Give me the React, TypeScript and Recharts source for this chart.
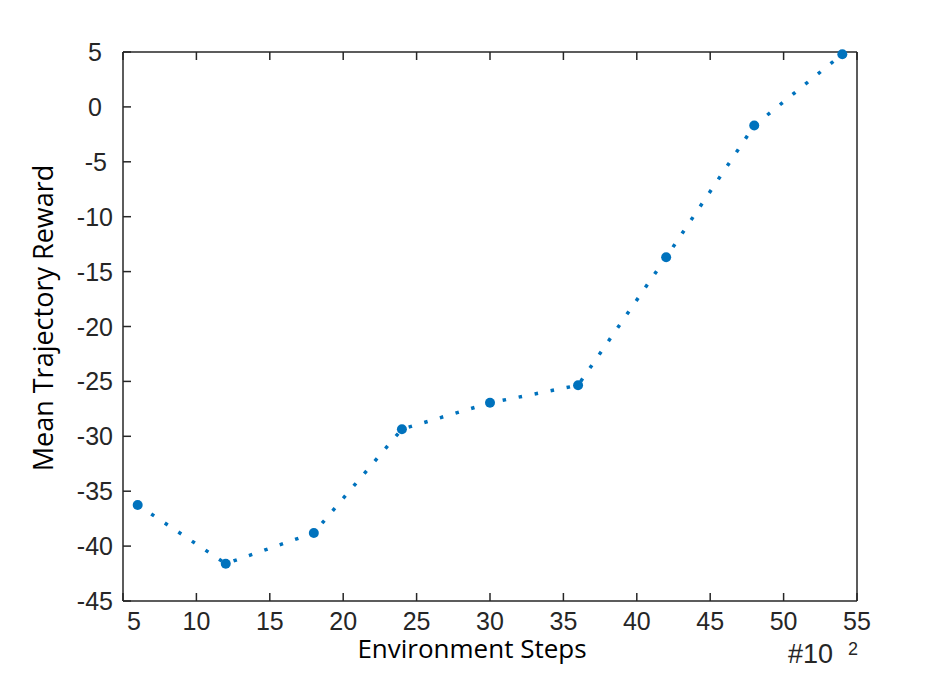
import React from "react";
import { LineChart, Line, XAxis, YAxis } from "recharts";

const steps = [6, 12, 18, 24, 30, 36, 42, 48, 54];
const meanReward = [-36.25, -41.6, -38.8, -29.35, -26.95, -25.35, -13.7, -1.7, 4.8];
const xTicks = [5, 10, 15, 20, 25, 30, 35, 40, 45, 50, 55];
const yTicks = [5, 0, -5, -10, -15, -20, -25, -30, -35, -40, -45];

const data = steps.map((step, i) => ({ step, reward: meanReward[i] }));

const AXIS = "#262626";
const BLUE = "#0072BD";
const TICK_LEN = 8;
const tickFont = { fontFamily: "'Liberation Sans', Arial, sans-serif", fontSize: 25, fill: AXIS };
const titleFont = { fontFamily: "'Open Sans', sans-serif", fontSize: 26, fill: "#000" };

// ticks are drawn inward by hand, labels placed relative to the axis line
function BottomTick({ x, y, payload }: any) {
  const dx = payload.value === 5 ? 11 : 0;
  return (
    <g>
      <line x1={x} y1={y} x2={x} y2={y - TICK_LEN} stroke={AXIS} strokeWidth={1.5} />
      <text x={x + dx} y={y + 29} textAnchor="middle" {...tickFont}>{payload.value}</text>
    </g>
  );
}

function TopTick({ x, y }: any) {
  return <line x1={x} y1={y} x2={x} y2={y + TICK_LEN} stroke={AXIS} strokeWidth={1.5} />;
}

function LeftTick({ x, y, payload }: any) {
  const label = String(payload.value);
  const end = label.length === 1 ? x - 21 : label === "-5" ? x - 16 : x - 10;
  return (
    <g>
      <line x1={x} y1={y} x2={x + TICK_LEN} y2={y} stroke={AXIS} strokeWidth={1.5} />
      <text x={end} y={y + 9} textAnchor="end" {...tickFont}>{label}</text>
    </g>
  );
}

function RightTick({ x, y }: any) {
  return <line x1={x} y1={y} x2={x - TICK_LEN} y2={y} stroke={AXIS} strokeWidth={1.5} />;
}

export default function App() {
  return (
    <div style={{ position: "absolute", left: 0, top: 0, width: 946, height: 679, background: "#fff" }}>
      <LineChart width={946} height={679} data={data} margin={{ top: 51, right: 88, bottom: 48, left: 63 }}>
        <XAxis
          xAxisId="bottom"
          dataKey="step"
          type="number"
          domain={[5, 55]}
          ticks={xTicks}
          height={30}
          tickSize={0}
          tickMargin={0}
          tickLine={false}
          axisLine={{ stroke: AXIS, strokeWidth: 1.5 }}
          tick={<BottomTick />}
          interval={0}
        />
        <XAxis
          xAxisId="top"
          orientation="top"
          dataKey="step"
          type="number"
          domain={[5, 55]}
          ticks={xTicks}
          height={1}
          tickSize={0}
          tickMargin={0}
          tickLine={false}
          axisLine={{ stroke: AXIS, strokeWidth: 1.5 }}
          tick={<TopTick />}
          interval={0}
        />
        <YAxis
          yAxisId="left"
          type="number"
          domain={[-45, 5]}
          ticks={yTicks}
          width={60}
          tickSize={0}
          tickMargin={0}
          tickLine={false}
          axisLine={{ stroke: AXIS, strokeWidth: 1.5 }}
          tick={<LeftTick />}
          interval={0}
        />
        <YAxis
          yAxisId="right"
          orientation="right"
          type="number"
          domain={[-45, 5]}
          ticks={yTicks}
          width={1}
          tickSize={0}
          tickMargin={0}
          tickLine={false}
          axisLine={{ stroke: AXIS, strokeWidth: 1.5 }}
          tick={<RightTick />}
          interval={0}
        />
        <Line
          xAxisId="bottom"
          yAxisId="left"
          type="linear"
          dataKey="reward"
          stroke={BLUE}
          strokeWidth={3.5}
          strokeDasharray="3.5 12.8"
          dot={{ r: 5, fill: BLUE, stroke: "none" }}
          activeDot={false}
          isAnimationActive={false}
        />
        <text x={472} y={658} textAnchor="middle" {...titleFont}>Environment Steps</text>
        <text x={53} y={318} textAnchor="middle" transform="rotate(-90 53 318)" {...titleFont} fontSize={27}>Mean Trajectory Reward</text>
        <text x={788} y={663} {...tickFont} fontSize={27}>#10</text>
        <text x={848} y={655} fontSize={18} fontFamily="'Liberation Sans', Arial, sans-serif" fill={AXIS}>2</text>
      </LineChart>
    </div>
  );
}
